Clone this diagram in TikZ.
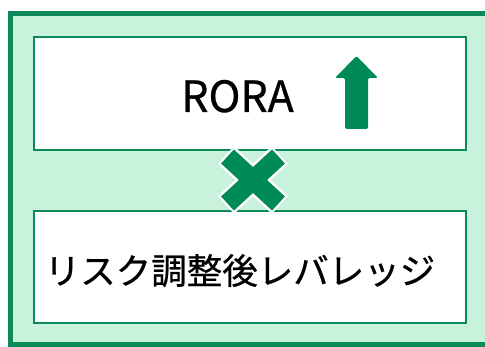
\documentclass[tikz,border=0pt]{standalone}
\usepackage{fontspec}
\usetikzlibrary{calc}
\setmainfont{Noto Sans CJK JP}[FakeBold=0.6]
\definecolor{edgegreen}{HTML}{0E8A5A}
\definecolor{markgreen}{HTML}{008A55}
\definecolor{palegreen}{HTML}{C8F2DC}
\tikzset{
  panel/.style={draw=edgegreen, line width=2.2pt, fill=white},
}
\begin{document}
\begin{tikzpicture}[x=1pt,y=-1pt]
\useasboundingbox (0,0) rectangle (485,347);
\begin{scope}
\clip (0,0) rectangle (485,347);
\draw[draw=edgegreen, fill=palegreen, line width=5pt] (10.5,13.5) rectangle (500,345);
\end{scope}
\draw[panel] (34,37) rectangle (466,150);
\draw[panel] (34,211) rectangle (466,323);
\node[font=\fontsize{43}{43}\selectfont, anchor=base] (rora) at (237.5,112) {RORA};
\node[font=\fontsize{35.5}{36}\selectfont, anchor=base] (lev) at (240,284) {リスク調整後レバレッジ};
% arrow
\fill[markgreen, rounded corners=1.5pt] (356.5,56) -- (378,78) -- (368,78) -- (368,129) -- (345,129) -- (345,78) -- (335,78) -- cycle;
% cross
\coordinate (c) at (253,180);
\draw[white, line width=24pt] ($(c)+(-27,-25)$) -- ($(c)+(27,25)$);
\draw[white, line width=24pt] ($(c)+(-27,25)$) -- ($(c)+(27,-25)$);
\draw[markgreen, line width=19pt] ($(c)+(-25.5,-23.5)$) -- ($(c)+(25.5,23.5)$);
\draw[markgreen, line width=19pt] ($(c)+(-25.5,23.5)$) -- ($(c)+(25.5,-23.5)$);
\end{tikzpicture}
\end{document}
